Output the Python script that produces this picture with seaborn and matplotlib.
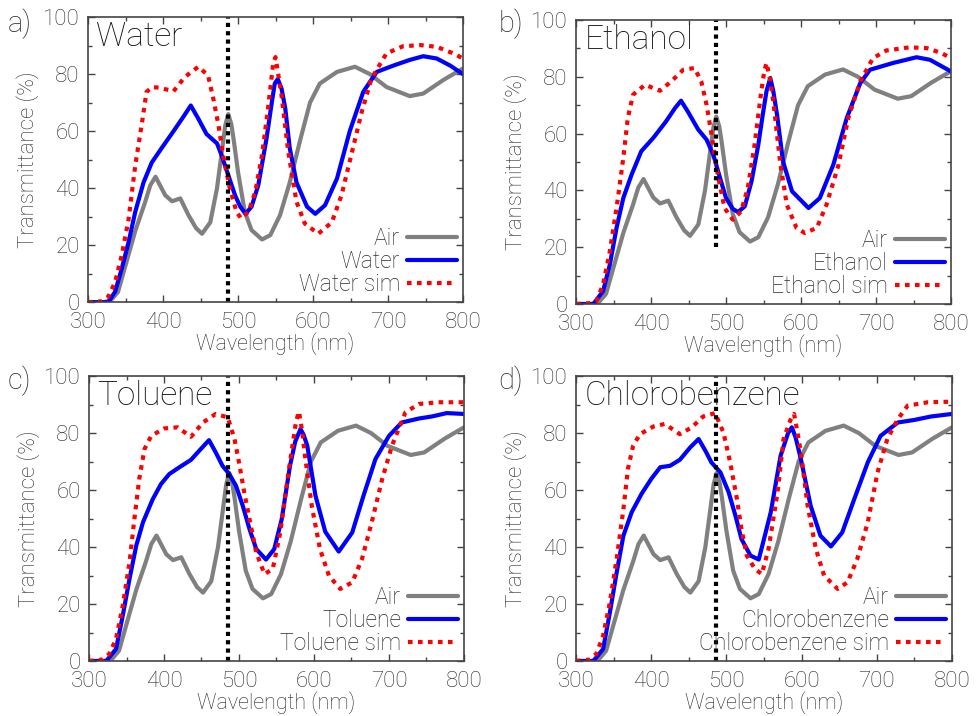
"""Transmittance spectra of the photonic film in air and in four solvents."""

import matplotlib
matplotlib.use("Agg")
import matplotlib.pyplot as plt
from matplotlib.ticker import MultipleLocator
import seaborn as sns

# shared reference spectrum (air)
air_wl = [300, 320, 330, 340, 349, 363, 376, 383, 390, 397, 403, 412, 423, 434, 444, 452,
          463, 472, 479, 483, 487, 491, 494, 500, 509, 518, 532, 543, 556, 569, 583, 596,
          609, 632, 656, 676, 698, 729, 747, 774, 800]
air_t = [0, 0, 0.5, 3.6, 12, 25, 35, 41, 44, 40.5, 37.5, 35.4, 36.4, 30.5, 26, 24,
         28, 40, 54, 62, 66, 62.5, 57.4, 45.7, 31.7, 25.3, 22, 23.5, 30.5, 42, 57, 70,
         76.7, 80.8, 82.6, 80, 75.5, 72.3, 73.2, 78, 82]

water_wl = [300, 327, 336, 345, 354, 363, 374, 385, 398, 414, 427, 437, 447, 458, 472, 478,
            487, 496, 503, 510, 518, 527, 538, 545, 549, 553, 558, 563, 569, 578, 592, 603,
            616, 632, 649, 667, 685, 707, 729, 747, 765, 783, 800]
water_t = [0, 0, 3.6, 11.8, 21, 31.7, 42, 49, 54, 60, 65, 69, 64.4, 59, 55.7, 51.6,
           44.6, 37.5, 33.5, 31, 33.5, 41, 57.4, 70, 76.7, 78.3, 75, 68, 54, 42, 33.5, 31,
           34, 43.4, 60, 73.8, 80.8, 83, 85, 86.3, 85.5, 83, 80]
water_sim_wl = [300, 318, 327, 336, 345, 354, 363, 372, 378, 386, 396, 414, 429, 447, 460, 467,
                474, 480, 489, 498, 504, 514, 523, 532, 540, 547, 550, 553, 558, 567, 578, 589,
                607, 625, 638, 652, 665, 678, 698, 720, 743, 765, 787, 800]
water_sim_t = [0, 0.3, 1.9, 7, 16.5, 29, 48, 63, 73.8, 75.5, 75.2, 74, 79, 82.6, 79.6, 71.5,
               62, 51.6, 40, 31.7, 29.4, 31.7, 38.7, 51.6, 68, 84, 86, 81, 72.6, 52.7, 35.2, 27.6,
               24, 28, 37.5, 52.7, 66.8, 78.5, 87.3, 89.8, 90.2, 89.6, 87.3, 85.5]

ethanol_wl = [300, 323, 336, 345, 354, 363, 374, 387, 403, 420, 432, 440, 449, 463, 474, 483,
              492, 500, 509, 516, 525, 534, 543, 549, 554, 559, 563, 568, 576, 588, 610, 625,
              643, 661, 679, 692, 723, 754, 772, 800]
ethanol_t = [0, 0, 4.5, 13.8, 26.8, 37.3, 45.5, 53.8, 58.5, 64.3, 69, 71.6, 67.8, 61.4, 57.9, 52.6,
             44.4, 37.3, 33.5, 32.4, 34.4, 43.2, 56, 66.7, 75, 79.6, 75, 66.7, 50.2, 39.7, 33.8, 37.3,
             49, 65.5, 77.8, 82.5, 84.9, 86.9, 86, 81.9]
ethanol_sim_wl = [300, 318, 327, 336, 345, 354, 363, 369, 376, 392, 412, 427, 443, 458, 467, 474,
                  480, 489, 498, 509, 520, 529, 538, 547, 551, 554, 558, 563, 572, 581, 594, 605,
                  621, 634, 650, 663, 679, 696, 714, 745, 768, 787, 800]
ethanol_sim_t = [0, 0.3, 1, 6.8, 18.5, 33.8, 51.4, 65.5, 73.7, 77.2, 75.1, 78.4, 82.5, 83.1, 78.4, 70.2,
                 60.8, 45.5, 33.8, 29.7, 32.6, 40.8, 56, 74.9, 82, 84.9, 80, 71.4, 50.2, 35, 26.8, 25,
                 26.8, 35, 49, 65.5, 78.4, 86.6, 89.3, 90.4, 90.1, 88.4, 86.6]

toluene_wl = [300, 323, 336, 345, 354, 363, 372, 385, 396, 407, 420, 436, 447, 460, 469, 478,
              487, 496, 505, 514, 523, 536, 547, 557, 568, 575, 582, 586, 591, 602, 615, 633,
              651, 666, 682, 700, 717, 740, 757, 777, 800]
toluene_t = [0, 0, 4.2, 15.9, 28.8, 40.5, 48.7, 56.8, 62.1, 65.6, 67.9, 70.6, 73.8, 77.5, 73.2, 68.5,
             65.6, 61.5, 54.5, 46.3, 39.3, 35.6, 39.3, 49.8, 68.5, 77, 81.4, 79.5, 75.6, 58, 45.4, 38.4,
             45.1, 58, 70.9, 79, 83.7, 85.1, 85.8, 87, 86.7]
toluene_sim_wl = [300, 318, 327, 336, 345, 354, 360, 367, 374, 383, 400, 418, 436, 452, 469, 485,
                  494, 500, 507, 514, 523, 534, 545, 555, 566, 576, 580, 584, 588, 597, 608, 620,
                  635, 651, 664, 677, 691, 704, 722, 740, 766, 800]
toluene_sim_t = [0, 0.5, 2.5, 7.7, 19.4, 34.6, 48.7, 63.9, 74.4, 79, 81.6, 82, 78.7, 83.7, 86.7, 85.5,
                 77.9, 69.7, 59.2, 49.8, 38.1, 30.5, 32.3, 45.1, 66.2, 84, 87.5, 81, 72, 54.5, 39.3, 29.9,
                 25.3, 27.6, 35.8, 48.7, 63.9, 75.6, 87.3, 90.2, 90.8, 90.8]

chloro_wl = [300, 323, 336, 345, 354, 363, 374, 387, 400, 412, 425, 438, 452, 463, 472, 480,
             492, 503, 512, 520, 532, 543, 559, 572, 582, 587, 592, 599, 612, 625, 639, 654,
             670, 688, 705, 728, 750, 772, 800]
chloro_t = [0, 0, 4.2, 17, 31, 44, 52.2, 58.6, 63.9, 68, 68.5, 70.6, 75, 77.9, 73.8, 69.7,
            66.2, 59.2, 51, 42.8, 37, 35.6, 52.2, 72, 80, 82, 78.5, 70.9, 54.5, 44, 40.2, 45.1,
            56.8, 69.7, 79, 83.7, 84.6, 85.8, 86.7]
chloro_sim_wl = [300, 318, 327, 336, 345, 354, 363, 369, 376, 385, 403, 418, 438, 454, 469, 485,
                 496, 505, 514, 520, 527, 538, 547, 556, 568, 576, 585, 590, 594, 599, 608, 619,
                 630, 648, 661, 674, 688, 701, 714, 728, 741, 768, 800]
chloro_sim_t = [0, 0.5, 2.5, 8.9, 20.6, 35.8, 53.3, 67.4, 75.6, 79.6, 82.3, 83.2, 79.6, 82, 85.8, 87,
                80.2, 69.7, 56.8, 46.3, 37, 32.3, 30.5, 39.3, 59.2, 77.9, 84.5, 86.7, 81, 73.2, 54.5, 39.3,
                29.9, 25.3, 27.6, 35.8, 48.7, 66.2, 77.9, 84.9, 89.6, 90.8, 91]

MARK_WL = 486  # wavelength of the dotted reference line

panels = [
    ("a)", "Water", water_wl, water_t, water_sim_wl, water_sim_t, 0.0),
    ("b)", "Ethanol", ethanol_wl, ethanol_t, ethanol_sim_wl, ethanol_sim_t, 0.2),
    ("c)", "Toluene", toluene_wl, toluene_t, toluene_sim_wl, toluene_sim_t, 0.0),
    ("d)", "Chlorobenzene", chloro_wl, chloro_t, chloro_sim_wl, chloro_sim_t, 0.0),
]

# axes boxes in figure fractions (left, bottom, width, height)
boxes = [
    (0.0901, 0.578, 0.3838, 0.398),
    (0.5896, 0.5754, 0.3838, 0.3966),
    (0.0911, 0.0768, 0.3838, 0.398),
    (0.5896, 0.0768, 0.3848, 0.398),
]
letter_pos = [(0.008, 0.988), (0.510, 0.988), (0.008, 0.490), (0.510, 0.490)]

sns.set_style("ticks")
plt.rcParams["font.family"] = ["Roboto", "DejaVu Sans"]
plt.rcParams["font.weight"] = "light"
plt.rcParams["axes.labelweight"] = "light"
plt.rcParams["lines.solid_joinstyle"] = "round"
TXT = "#2a2a2a"
FS = 16

fig = plt.figure(figsize=(9.77, 7.16), dpi=100)

for (letter, name, wl, t, swl, st, vmin), box, lp in zip(panels, boxes, letter_pos):
    ax = fig.add_axes(box)
    sns.lineplot(x=air_wl, y=air_t, ax=ax, color="#808080", lw=3, label="Air")
    sns.lineplot(x=wl, y=t, ax=ax, color="#0000ff", lw=3, label=name)
    sns.lineplot(x=swl, y=st, ax=ax, color="#ff0000", lw=3, label=f"{name} sim")
    ax.lines[-1].set_dashes((1.1, 1.3))
    vl = ax.axvline(MARK_WL, ymin=vmin, ymax=1, color="black", lw=3)
    vl.set_dashes((1, 1))

    ax.set_xlim(300, 800)
    ax.set_ylim(0, 100)
    ax.xaxis.set_major_locator(MultipleLocator(100))
    ax.xaxis.set_minor_locator(MultipleLocator(50))
    ax.yaxis.set_major_locator(MultipleLocator(20))
    ax.yaxis.set_minor_locator(MultipleLocator(10))
    ax.tick_params(which="both", direction="in", top=True, right=True,
                   colors="#444444", labelcolor=TXT, labelsize=FS)
    ax.tick_params(axis="x", which="major", length=5, width=1, pad=7)
    ax.tick_params(axis="y", which="major", length=5, width=1, pad=6)
    ax.tick_params(which="minor", length=3, width=1)
    for lab in ax.get_xticklabels() + ax.get_yticklabels():
        lab.set_fontweight("light")
    for sp in ax.spines.values():
        sp.set_color("#444444")
        sp.set_linewidth(1.2)

    ax.set_xlabel("Wavelength (nm)", fontsize=15.5, color=TXT, labelpad=-0.5,
                  fontweight="light")
    ax.set_ylabel("Transmittance (%)", fontsize=FS, color=TXT, labelpad=3,
                  fontweight="light")
    ax.text(0.022, 0.985, name, transform=ax.transAxes, fontsize=24,
            color="#111111", ha="left", va="top", fontweight="light")
    fig.text(lp[0], lp[1], letter, fontsize=21, color=TXT, ha="left", va="top",
             fontweight="light")

    leg = ax.legend(loc="lower right", frameon=False, markerfirst=False, fontsize=16.5,
                    handlelength=2.2, handletextpad=0.3, labelspacing=0.0,
                    borderaxespad=0.15, borderpad=0.1)
    for txt in leg.get_texts():
        txt.set_color(TXT)
        txt.set_fontweight("light")

fig.savefig("out.png", dpi=100)
